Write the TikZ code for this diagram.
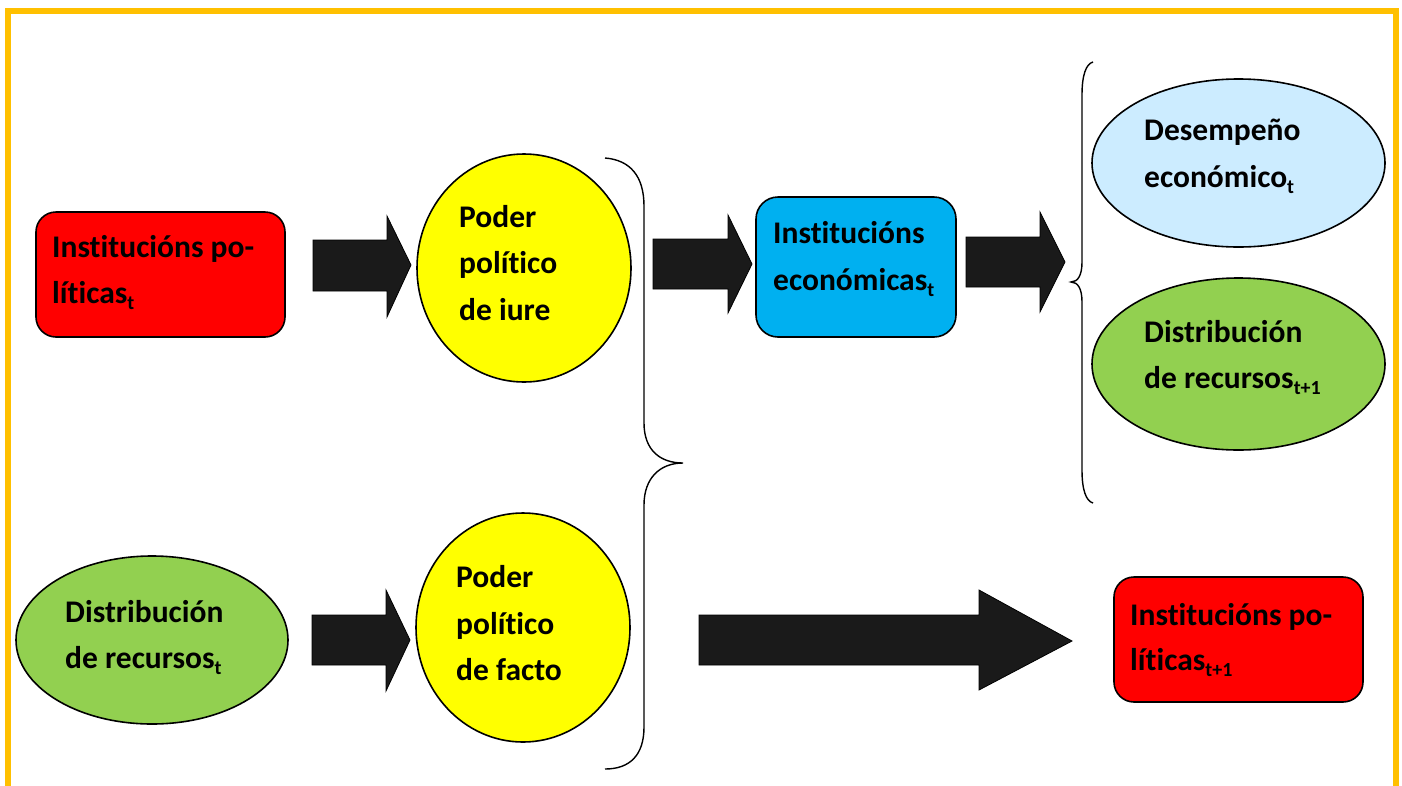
\documentclass[tikz,border=0pt]{standalone}
\usepackage{fontspec}
\setmainfont{Carlito}[RawFeature={-liga;-clig}]
\usetikzlibrary{shapes.geometric}
\definecolor{frameyellow}{HTML}{FFC000}
\definecolor{boxred}{HTML}{FF0000}
\definecolor{elyellow}{HTML}{FFFF00}
\definecolor{boxblue}{HTML}{00B0F0}
\definecolor{ellblue}{HTML}{CCECFF}
\definecolor{ellgreen}{HTML}{92D050}
\definecolor{arrowblack}{HTML}{1A1A1A}
\newcommand{\lowsub}[1]{\raisebox{-0.22em}{\fontsize{20}{20}\selectfont #1}}
\tikzset{
  rbox/.style={draw=black, line width=1.6, rounded corners=20, inner sep=0},
  ell/.style={ellipse, draw=black, line width=1.6, inner sep=0},
  txt/.style={anchor=base west, inner sep=0, font=\fontsize{31.5}{36}\selectfont\bfseries},
  blockarrow/.style={fill=arrowblack, draw=black, line width=0.8, line join=miter},
  brace/.style={draw=black, line width=1.4}
}
\begin{document}
\begin{tikzpicture}[x=1pt, y=-1pt]
\useasboundingbox (0,0) rectangle (1402,785);
\clip (0,0) rectangle (1402,785);
% frame
\draw[frameyellow, line width=6] (8,800) -- (8,11) -- (1396,11) -- (1396,800);

% shapes
\node[rbox, fill=boxred, minimum width=249, minimum height=125] (pi1) at (160.5,274.5) {};
\node[ell, fill=elyellow, minimum width=214, minimum height=228] (pdj) at (524,268) {};
\node[rbox, fill=boxblue, minimum width=200, minimum height=140, rounded corners=22] (ie) at (856,267) {};
\node[ell, fill=ellblue, minimum width=293, minimum height=168] (de) at (1238.5,163) {};
\node[ell, fill=ellgreen, minimum width=293, minimum height=172] (dr2) at (1238.5,364) {};
\node[ell, fill=ellgreen, minimum width=272, minimum height=168] (dr1) at (152,640) {};
\node[ell, fill=elyellow, minimum width=214, minimum height=229] (pdf) at (523,627.5) {};
\node[rbox, fill=boxred, minimum width=249, minimum height=125] (pi2) at (1238.5,639.5) {};

% texts
\node[txt] (pi1a) at (52,257) {Institucións po-};
\node[txt] (pi1b) at (52,303) {líticas\lowsub{t}};
\node[txt] (pdja) at (459,227) {Poder};
\node[txt] (pdjb) at (459,273) {político};
\node[txt] (pdjc) at (459,320) {de iure};
\node[txt] (iea) at (773,243) {Institucións};
\node[txt] (ieb) at (773,290) {económicas\lowsub{t}};
\node[txt] (dea) at (1144,140) {Desempeño};
\node[txt] (deb) at (1144,187) {económico\lowsub{t}};
\node[txt] (dr2a) at (1144,342) {Distribución};
\node[txt] (dr2b) at (1144,388) {de recursos\lowsub{t+1}};
\node[txt] (dr1a) at (65,622) {Distribución};
\node[txt] (dr1b) at (65,668) {de recursos\lowsub{t}};
\node[txt] (pdfa) at (456,587) {Poder};
\node[txt] (pdfb) at (456,634) {político};
\node[txt] (pdfc) at (456,680) {de facto};
\node[txt] (pi2a) at (1130,625) {Institucións po-};
\node[txt] (pi2b) at (1130,670) {líticas\lowsub{t+1}};

% block arrows
\draw[blockarrow] (313,240) -- (387,240) -- (387,216) -- (411,265) -- (387,317) -- (387,291) -- (313,291) -- cycle;
\draw[blockarrow] (653,239) -- (728,239) -- (728,215) -- (752,264) -- (728,313) -- (728,289) -- (653,289) -- cycle;
\draw[blockarrow] (966,237) -- (1040,237) -- (1040,212) -- (1065,262) -- (1040,312) -- (1040,287) -- (966,287) -- cycle;
\draw[blockarrow] (312,615) -- (386,615) -- (386,590) -- (410,640) -- (386,691) -- (386,665) -- (312,665) -- cycle;
\draw[blockarrow] (699,615) -- (979,615) -- (979,590) -- (1072,641) -- (979,690) -- (979,665) -- (699,665) -- cycle;

% braces
\draw[brace] (605,158) .. controls (630,160) and (644,176) .. (644,206)
  -- (644,423) .. controls (644,450) and (660,463) .. (683,463)
  .. controls (660,463) and (644,478) .. (644,505)
  -- (644,727) .. controls (644,755) and (630,769) .. (605,769);
\draw[brace] (1093,62) .. controls (1086,64) and (1082,75) .. (1082,95)
  -- (1082,262) .. controls (1082,275) and (1078,282) .. (1071,282)
  .. controls (1078,282) and (1082,289) .. (1082,302)
  -- (1082,470) .. controls (1082,490) and (1086,501) .. (1093,503);
\end{tikzpicture}
\end{document}
